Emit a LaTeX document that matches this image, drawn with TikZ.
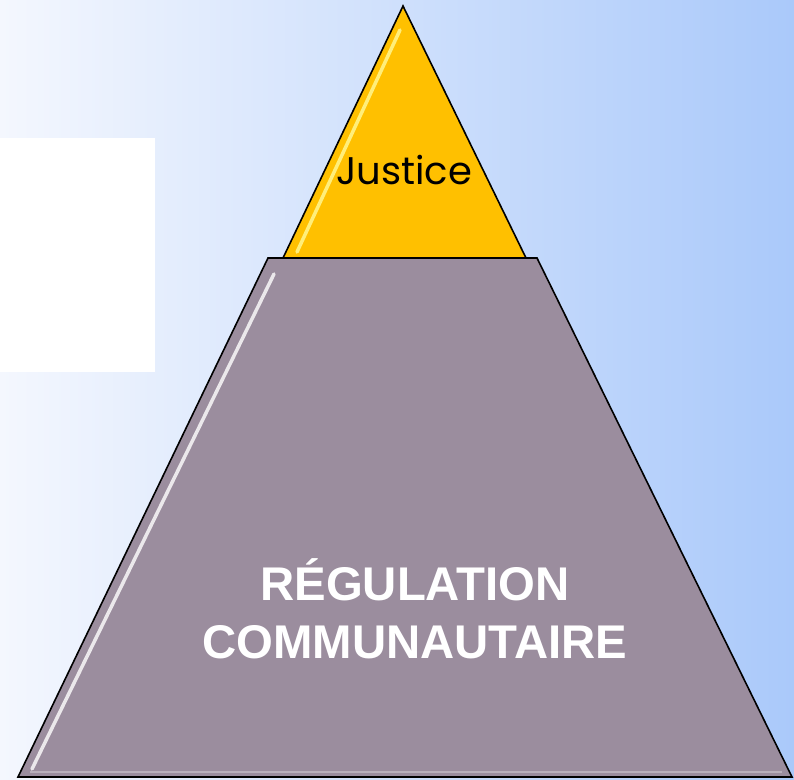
\documentclass[tikz,border=0pt]{standalone}
\usepackage{fontspec}
\usepackage{tikz}
\usetikzlibrary{calc,positioning}
\newfontfamily\peakfont{Poppins}
\newfontfamily\basefont{Liberation Sans}
\definecolor{bgleft}{RGB}{244,247,254}
\definecolor{bgmid}{RGB}{222,232,252}
\definecolor{bgright}{RGB}{170,201,250}
\definecolor{peakyellow}{RGB}{255,192,0}
\definecolor{basegray}{RGB}{155,141,158}

\begin{document}
\begin{tikzpicture}[x=1pt, y=-1pt,
    level/.style={draw=black, line width=1.6pt, line join=miter},
    gloss/.style={white, line width=3.5pt, line cap=round, opacity=0.8}]
    \useasboundingbox (0,0) rectangle (794,779);

    % background
    \shade[left color=bgleft, middle color=bgmid, right color=bgright] (0,0) rectangle (794,779);
    \fill[white] (0,138) rectangle (155,372);

    % top of the pyramid
    \filldraw[level, fill=peakyellow] (403,6) -- (526,258) -- (283,258) -- cycle;
    \draw[gloss, white!60!yellow] (400,30) -- (297,252);

    % base of the pyramid
    \filldraw[level, fill=basegray] (268,258) -- (537,258) -- (792,777) -- (18,777) -- cycle;
    \draw[gloss] (274,274) -- (32,769);
    \draw[white, opacity=0.3, line width=2pt] (30,772) -- (782,772);

    % labels
    \node[font=\peakfont\fontsize{38.5}{46}\selectfont] (justice) at (404,170) {Justice};
    \node[white, align=center, font=\basefont\bfseries\fontsize{47.3}{58}\selectfont]
        (regulation) at (415,609) {RÉGULATION\\COMMUNAUTAIRE};
\end{tikzpicture}
\end{document}
